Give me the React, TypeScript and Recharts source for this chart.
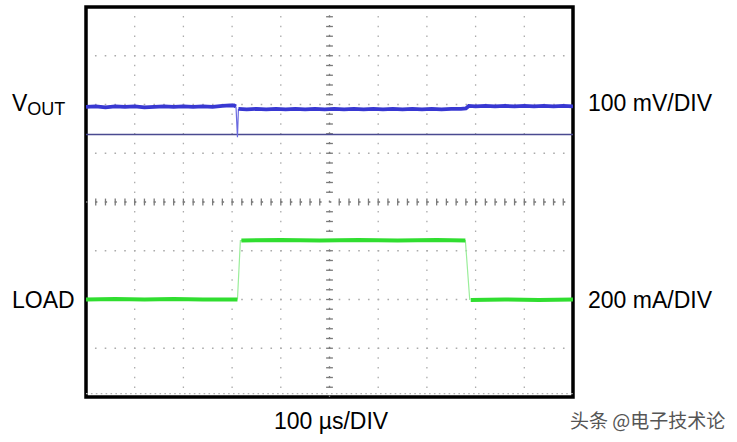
import React from 'react';
import { LineChart, Line, XAxis, YAxis, CartesianGrid, ReferenceLine, ReferenceArea } from 'recharts';

// time in µs (10 divisions of 100 µs), vertical in divisions (-4..4)
const timeTicks = [0, 100, 200, 300, 400, 500, 600, 700, 800, 900, 1000];
const divTicks = [-4, -3, -2, -1, 0, 1, 2, 3, 4];
const minorTimeTicks = [20, 40, 60, 80, 120, 140, 160, 180, 220, 240, 260, 280, 320, 340, 360, 380, 420, 440, 460, 480, 520, 540, 560, 580, 620, 640, 660, 680, 720, 740, 760, 780, 820, 840, 860, 880, 920, 940, 960, 980, 100, 200, 300, 400, 600, 700, 800, 900];
const minorDivTicks = [-3.8, -3.6, -3.4, -3.2, -3, -2.8, -2.6, -2.4, -2.2, -2, -1.8, -1.6, -1.4, -1.2, -1, -0.8, -0.6, -0.4, -0.2, 0.2, 0.4, 0.6, 0.8, 1, 1.2, 1.4, 1.6, 1.8, 2, 2.2, 2.4, 2.6, 2.8, 3, 3.2, 3.4, 3.6, 3.8];

// VOUT trace (thick part)
const voutTrace = [
  { t: 0, v: 1.95 }, { t: 20, v: 1.96 }, { t: 40, v: 1.94 }, { t: 60, v: 1.96 }, { t: 80, v: 1.95 },
  { t: 100, v: 1.96 }, { t: 120, v: 1.94 }, { t: 140, v: 1.95 }, { t: 160, v: 1.96 }, { t: 180, v: 1.95 },
  { t: 200, v: 1.96 }, { t: 220, v: 1.95 }, { t: 240, v: 1.96 }, { t: 260, v: 1.95 }, { t: 280, v: 1.97 },
  { t: 296, v: 1.98 }, { t: 304, v: 1.98 }, { t: 308, v: 1.96 }, { t: 309, v: null },
  { t: 313, v: 1.91 }, { t: 330, v: 1.9 }, { t: 350, v: 1.91 }, { t: 370, v: 1.9 }, { t: 390, v: 1.91 },
  { t: 410, v: 1.9 }, { t: 430, v: 1.91 }, { t: 450, v: 1.9 }, { t: 470, v: 1.91 }, { t: 490, v: 1.9 },
  { t: 510, v: 1.91 }, { t: 530, v: 1.9 }, { t: 550, v: 1.91 }, { t: 570, v: 1.9 }, { t: 590, v: 1.91 },
  { t: 610, v: 1.9 }, { t: 630, v: 1.91 }, { t: 650, v: 1.9 }, { t: 670, v: 1.91 }, { t: 690, v: 1.9 },
  { t: 710, v: 1.91 }, { t: 730, v: 1.9 }, { t: 750, v: 1.91 }, { t: 770, v: 1.91 }, { t: 780, v: 1.92 },
  { t: 786, v: 1.97 }, { t: 800, v: 1.96 }, { t: 820, v: 1.97 }, { t: 840, v: 1.96 }, { t: 860, v: 1.97 },
  { t: 880, v: 1.96 }, { t: 900, v: 1.97 }, { t: 920, v: 1.96 }, { t: 940, v: 1.97 }, { t: 960, v: 1.96 },
  { t: 980, v: 1.97 }, { t: 1000, v: 1.96 },
];
// VOUT transient spike (thin)
const voutSpike = [{ t: 308, v: 1.96 }, { t: 311, v: 1.33 }, { t: 313, v: 1.91 }];
// VOUT ground reference marker
const voutGround = [{ t: 0, v: 1.385 }, { t: 1000, v: 1.385 }];

// LOAD trace levels (thick) and edges (thin)
const loadLevels = [
  { t: 0, v: -2.0 }, { t: 60, v: -1.99 }, { t: 120, v: -2.0 }, { t: 180, v: -1.99 }, { t: 240, v: -2.0 },
  { t: 311, v: -2.0 }, { t: 314, v: null },
  { t: 319, v: -0.79 }, { t: 400, v: -0.78 }, { t: 480, v: -0.79 }, { t: 560, v: -0.78 }, { t: 640, v: -0.79 },
  { t: 720, v: -0.78 }, { t: 779, v: -0.79 }, { t: 784, v: null },
  { t: 790, v: -2.01 }, { t: 860, v: -2.0 }, { t: 930, v: -2.01 }, { t: 1000, v: -2.0 },
];
const loadEdges = [
  { t: 311, v: -2.0 }, { t: 317, v: -0.79 }, { t: 779, v: -0.79 }, { t: 788, v: -2.01 },
];

const FONT = '"Liberation Sans", Arial, sans-serif';

export default function App() {
  return (
    <div style={{ position: 'absolute', left: 0, top: 0, width: 737, height: 442, background: '#fff' }}>
      <LineChart width={737} height={442} margin={{ top: 7, right: 164, bottom: 45, left: 86 }}>
        <XAxis type="number" dataKey="t" domain={[0, 1000]} ticks={timeTicks} hide allowDataOverflow />
        <YAxis type="number" dataKey="v" domain={[-4, 4]} ticks={divTicks} hide allowDataOverflow />
        <CartesianGrid stroke="#ababab" strokeWidth={1.3} strokeDasharray="1.6 8.15" strokeDashoffset={0.8} />
        <ReferenceLine x={500} stroke="#7a7a7a" strokeWidth={1.3} strokeDasharray="1.6 8.15" />
        <ReferenceLine y={0} stroke="#7a7a7a" strokeWidth={1.3} strokeDasharray="1.6 8.15" />
        {minorTimeTicks.map((t) => (
          <ReferenceLine key={'tx' + t} segment={[{ x: t, y: -0.07 }, { x: t, y: 0.07 }]} stroke="#7a7a7a" strokeWidth={1.3} />
        ))}
        {minorDivTicks.map((d) => (
          <ReferenceLine key={'ty' + d} segment={[{ x: 493, y: d }, { x: 507, y: d }]} stroke="#7a7a7a" strokeWidth={1.3} />
        ))}
        <ReferenceLine y={-3.93} stroke="#b5b5b5" strokeWidth={1.2} strokeDasharray="1.6 3.3" />
        <Line data={voutGround} dataKey="v" type="linear" stroke="#4a4a90" strokeWidth={1.4} dot={false} isAnimationActive={false} />
        <Line data={voutSpike} dataKey="v" type="linear" stroke="#6a6ae0" strokeWidth={1.2} dot={false} isAnimationActive={false} />
        <Line data={voutTrace} dataKey="v" type="linear" stroke="#3838d2" strokeWidth={3.8} dot={false} isAnimationActive={false} connectNulls={false} />
        <Line data={loadEdges} dataKey="v" type="linear" stroke="#9aee9a" strokeWidth={1.2} dot={false} isAnimationActive={false} />
        <Line data={loadLevels} dataKey="v" type="linear" stroke="#30de30" strokeWidth={4} dot={false} isAnimationActive={false} connectNulls={false} />
        <ReferenceArea x1={0} x2={1000} y1={-4} y2={4} fill="none" stroke="#000" strokeWidth={3.5} />
      </LineChart>
      <svg width={737} height={442} style={{ position: 'absolute', left: 0, top: 0, pointerEvents: 'none' }}>
        <text x={12} y={111} fontFamily={FONT} fontSize={23} fill="#000">
          V<tspan fontSize={18} dy={4}>OUT</tspan>
        </text>
        <text x={12} y={308} fontFamily={FONT} fontSize={23} fill="#000">LOAD</text>
        <text x={588} y={111} fontFamily={FONT} fontSize={23} fill="#000">100 mV/DIV</text>
        <text x={588} y={308} fontFamily={FONT} fontSize={23} fill="#000">200 mA/DIV</text>
        <text x={331} y={429} textAnchor="middle" fontFamily={FONT} fontSize={23} fill="#000">100 µs/DIV</text>
        <text x={570} y={428} fontFamily={'"Noto Sans CJK SC", sans-serif'} fontSize={19} fill="#555">头条 @电子技术论</text>
      </svg>
    </div>
  );
}
